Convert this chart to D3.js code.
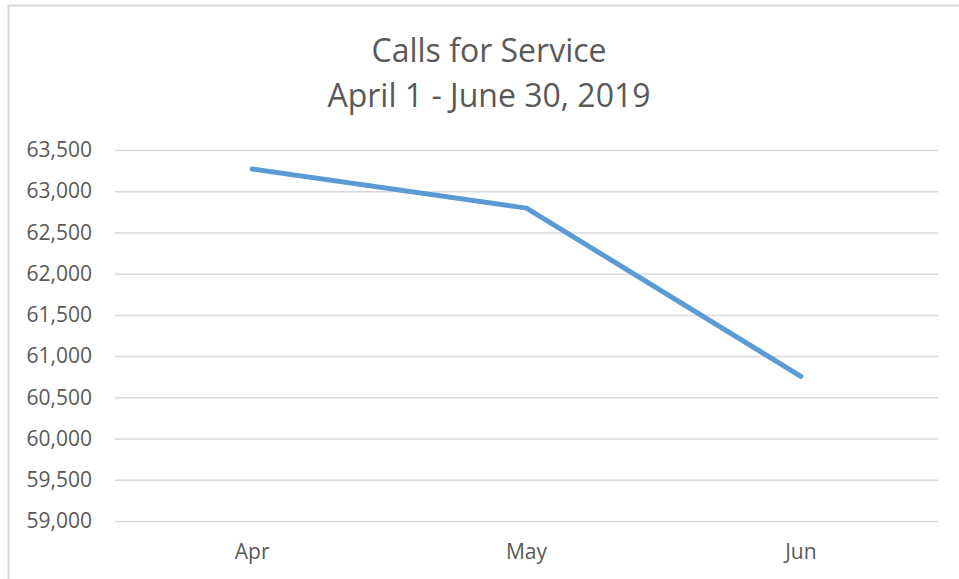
<!DOCTYPE html>
<html>
<head>
<meta charset="utf-8">
<script src="https://cdn.jsdelivr.net/npm/d3@7"></script>
<style>
  body { margin: 0; background: #fff; }
  text { font-family: "Open Sans", "Liberation Sans", sans-serif; fill: #595959; }
</style>
</head>
<body>
<svg class="chart"></svg>
<script>
const months = ["Apr", "May", "Jun"];
const calls = [63270, 62795, 60755];
const yTicks = [59000, 59500, 60000, 60500, 61000, 61500, 62000, 62500, 63000, 63500];
const titleLines = ["Calls for Service", "April 1 - June 30, 2019"];

const W = 959, H = 579;
const margin = {top: 150, right: 21, bottom: 58, left: 115};
const width = W - margin.left - margin.right;
const height = H - margin.top - margin.bottom;

const svg = d3.select('.chart')
  .attr('width', W)
  .attr('height', H);

// chart frame
svg.append('path')
  .attr('d', `M8.5,${H} V5.5 H${W}`)
  .attr('fill', 'none')
  .attr('stroke', '#d9d9d9')
  .attr('stroke-width', 2);

svg.selectAll('.title')
  .data(titleLines)
  .enter()
.append('text')
  .attr('class', 'title')
  .attr('x', 489)
  .attr('y', (d, i) => 62 + i * 45)
  .attr('text-anchor', 'middle')
  .style('font-size', '32px')
  .text(d => d);

const chart = svg.append('g')
  .attr('transform', `translate(${margin.left}, ${margin.top})`);

const x = d3.scaleBand()
  .domain(months)
  .range([0, width]);

const y = d3.scaleLinear()
  .domain([59000, 63500])
  .range([height, 0]);

const yAxis = d3.axisLeft(y)
  .tickValues(yTicks)
  .tickSize(-width)
  .tickPadding(23)
  .tickFormat(d3.format(','));

chart.append('g')
  .attr('class', 'y axis')
  .call(yAxis)
  .call(g => g.select('.domain').remove())
  .call(g => g.selectAll('line').attr('stroke', '#d9d9d9').attr('stroke-width', 1.5))
  .call(g => g.selectAll('text').style('font-size', '21px').attr('fill', '#595959'));

const xAxis = d3.axisBottom(x)
  .tickSize(0)
  .tickPadding(23);

chart.append('g')
  .attr('class', 'x axis')
  .attr('transform', `translate(0, ${height})`)
  .call(xAxis)
  .call(g => g.select('.domain').remove())
  .call(g => g.selectAll('text').style('font-size', '21px').attr('fill', '#595959'));

const line = d3.line()
  .x((d, i) => x(months[i]) + x.bandwidth() / 2)
  .y(d => y(d));

chart.append('path')
  .datum(calls)
  .attr('d', line)
  .attr('fill', 'none')
  .attr('stroke', '#5b9bd5')
  .attr('stroke-width', 5)
  .attr('stroke-linecap', 'round')
  .attr('stroke-linejoin', 'round');
</script>
</body>
</html>
